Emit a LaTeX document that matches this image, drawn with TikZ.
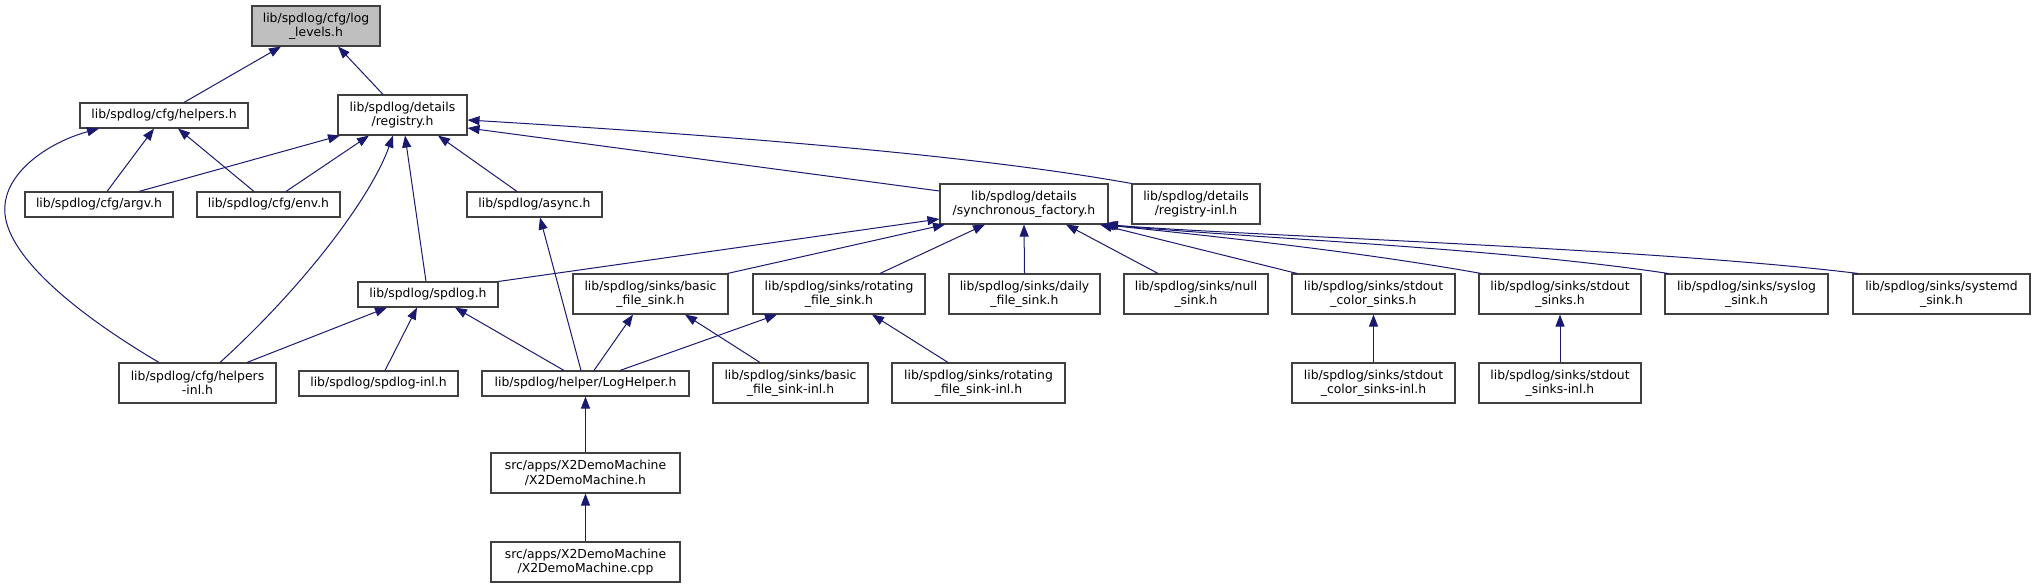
\documentclass[tikz,border=0pt]{standalone}
\usepackage{fontspec}
\setmainfont{DejaVu Sans}
\usetikzlibrary{arrows.meta}
\definecolor{boxc}{HTML}{404040}
\definecolor{edgec}{HTML}{191970}
\definecolor{hlc}{HTML}{BFBFBF}
\tikzset{
  box/.style={draw=boxc, fill=white, line width=1.1pt, inner sep=0pt, align=center,
    font=\fontsize{12.4pt}{14.3pt}\selectfont},
  hlbox/.style={box, fill=hlc},
  one/.style={minimum height=25pt},
  two/.style={minimum height=40pt},
  edge/.style={draw=edgec, line width=1pt, -{Triangle[length=12pt,width=9pt]}},
}
\begin{document}
\begin{tikzpicture}[x=1pt,y=-1pt]
\useasboundingbox (0,0) rectangle (2036,588);
% row 0
\node[hlbox,two,minimum width=128pt] (loglevels) at (316,26) {lib/spdlog/cfg/log\\\_levels.h};
% row 1
\node[box,one,minimum width=168pt] (helpers) at (164,115.5) {lib/spdlog/cfg/helpers.h};
\node[box,two,minimum width=129pt] (registry) at (402.5,115) {lib/spdlog/details\\/registry.h};
% row 2
\node[box,one,minimum width=148pt] (argv) at (99,204.5) {lib/spdlog/cfg/argv.h};
\node[box,one,minimum width=143pt] (env) at (268.5,204.5) {lib/spdlog/cfg/env.h};
\node[box,one,minimum width=135pt] (async) at (534.5,204.5) {lib/spdlog/async.h};
\node[box,two,minimum width=168pt] (sync) at (1024,204) {lib/spdlog/details\\/synchronous\_factory.h};
\node[box,two,minimum width=128pt] (reginl) at (1196,204) {lib/spdlog/details\\/registry-inl.h};
% row 3
\node[box,one,minimum width=140pt] (spdlog) at (428,294.5) {lib/spdlog/spdlog.h};
\node[box,two,minimum width=155pt] (basic) at (650.5,294) {lib/spdlog/sinks/basic\\\_file\_sink.h};
\node[box,two,minimum width=172pt] (rotating) at (839,294) {lib/spdlog/sinks/rotating\\\_file\_sink.h};
\node[box,two,minimum width=151pt] (daily) at (1024.5,294) {lib/spdlog/sinks/daily\\\_file\_sink.h};
\node[box,two,minimum width=144pt] (null) at (1196,294) {lib/spdlog/sinks/null\\\_sink.h};
\node[box,two,minimum width=163pt] (stdcolor) at (1373.5,294) {lib/spdlog/sinks/stdout\\\_color\_sinks.h};
\node[box,two,minimum width=162pt] (stdsinks) at (1560,294) {lib/spdlog/sinks/stdout\\\_sinks.h};
\node[box,two,minimum width=163pt] (syslog) at (1746.5,294) {lib/spdlog/sinks/syslog\\\_sink.h};
\node[box,two,minimum width=177pt] (systemd) at (1941.5,294) {lib/spdlog/sinks/systemd\\\_sink.h};
% row 4
\node[box,two,minimum width=157pt] (helpersinl) at (197.5,383) {lib/spdlog/cfg/helpers\\-inl.h};
\node[box,one,minimum width=159pt] (spdloginl) at (378.5,383.5) {lib/spdlog/spdlog-inl.h};
\node[box,one,minimum width=207pt] (loghelper) at (585.5,383.5) {lib/spdlog/helper/LogHelper.h};
\node[box,two,minimum width=155pt] (basicinl) at (790.5,383) {lib/spdlog/sinks/basic\\\_file\_sink-inl.h};
\node[box,two,minimum width=173pt] (rotinl) at (978.5,383) {lib/spdlog/sinks/rotating\\\_file\_sink-inl.h};
\node[box,two,minimum width=163pt] (stdcolorinl) at (1373.5,383) {lib/spdlog/sinks/stdout\\\_color\_sinks-inl.h};
\node[box,two,minimum width=162pt] (stdsinksinl) at (1560,383) {lib/spdlog/sinks/stdout\\\_sinks-inl.h};
% row 5, 6
\node[box,two,minimum width=189pt] (x2h) at (585.5,473) {src/apps/X2DemoMachine\\/X2DemoMachine.h};
\node[box,two,minimum width=189pt] (x2cpp) at (585.5,562) {src/apps/X2DemoMachine\\/X2DemoMachine.cpp};

% edges
\draw[edge] ([xshift=20pt]helpers.north) -- ([xshift=-35pt]loglevels.south);
\draw[edge] ([xshift=-19.5pt]registry.north) -- ([xshift=22pt]loglevels.south);
\draw[edge] ([xshift=8pt]argv.north) -- ([xshift=-10pt]helpers.south);
\draw[edge] ([xshift=-14.5pt]env.north) -- ([xshift=14pt]helpers.south);
\draw[edge] ([xshift=-38.5pt]helpersinl.north) .. controls (70,310) and (0,250) .. (5,205)
   .. controls (8,170) and (50,142) .. ([xshift=-65pt]helpers.south);
\draw[edge] ([xshift=40pt]argv.north) -- ([xshift=-62.5pt]registry.south);
\draw[edge] ([xshift=17.5pt]env.north) -- ([xshift=-33.5pt]registry.south);
\draw[edge] ([xshift=22.5pt]helpersinl.north) .. controls (300,290) and (370,200) .. ([xshift=-9.5pt]registry.south);
\draw[edge] ([xshift=-2pt]spdlog.north) -- ([xshift=2.5pt]registry.south);
\draw[edge] ([xshift=-17.5pt]async.north) -- ([xshift=35.5pt]registry.south);
\draw[edge] ([yshift=13pt]sync.west) -- ([yshift=-13pt]registry.east);
\draw[edge] (reginl.north west) .. controls (1000,160) and (800,140) .. ([yshift=-5pt]registry.east);
\draw[edge] ([xshift=-4.5pt]loghelper.north) -- ([xshift=5.5pt]async.south);
\draw[edge] (spdlog.north east) -- ([yshift=-15pt]sync.west);
\draw[edge] ([xshift=-1pt]basic.north east) -- ([xshift=-79pt]sync.south);
\draw[edge] ([xshift=41pt]rotating.north) -- ([xshift=-39pt]sync.south);
\draw[edge] (daily.north) -- (sync.south);
\draw[edge] ([xshift=-38pt]null.north) -- ([xshift=42pt]sync.south);
\draw[edge] ([xshift=-76.5pt]stdcolor.north) -- ([xshift=76pt]sync.south);
\draw[edge] ([xshift=-79pt]stdsinks.north) .. controls (1350,250) and (1200,235) .. ([xshift=78pt]sync.south);
\draw[edge] ([xshift=-78.5pt]syslog.north) .. controls (1500,248) and (1250,238) .. ([xshift=80pt]sync.south);
\draw[edge] ([xshift=-83.5pt]systemd.north) .. controls (1650,248) and (1250,236) .. ([xshift=82pt]sync.south);
\draw[edge] ([xshift=49.5pt]helpersinl.north) -- ([xshift=-41pt]spdlog.south);
\draw[edge] ([xshift=6.5pt]spdloginl.north) -- ([xshift=-11pt]spdlog.south);
\draw[edge] ([xshift=-21.5pt]loghelper.north) -- ([xshift=27pt]spdlog.south);
\draw[edge] ([xshift=8.5pt]loghelper.north) -- ([xshift=-17.5pt]basic.south);
\draw[edge] ([xshift=-30.5pt]basicinl.north) -- ([xshift=34.5pt]basic.south);
\draw[edge] ([xshift=34.5pt]loghelper.north) -- ([xshift=-62pt]rotating.south);
\draw[edge] ([xshift=-30.5pt]rotinl.north) -- ([xshift=33pt]rotating.south);
\draw[edge] (stdcolorinl.north) -- (stdcolor.south);
\draw[edge] (stdsinksinl.north) -- (stdsinks.south);
\draw[edge] (x2h.north) -- (loghelper.south);
\draw[edge] (x2cpp.north) -- (x2h.south);
\end{tikzpicture}
\end{document}
